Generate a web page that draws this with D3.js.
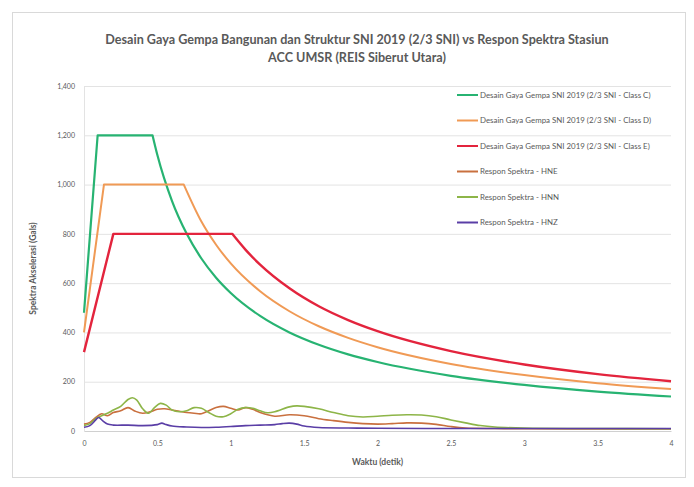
<!DOCTYPE html>
<html>
<head>
<meta charset="utf-8">
<script src="https://cdn.jsdelivr.net/npm/d3@7"></script>
<style>
  html, body { margin: 0; padding: 0; background: #ffffff; }
  svg { display: block; }
  text { font-family: Lato, "Open Sans", sans-serif; fill: #595959; }
</style>
</head>
<body>
<svg id="chart" width="694" height="487"></svg>
<script>
// Design spectra (SNI 2019, 2/3 SNI) per site class: period T (s) and Sa (gals)
// points 0..2 are the linear rise and the plateau, the rest is the descending branch
const classC_T = [0, 0.093, 0.467, 0.5, 0.6, 0.7, 0.8, 0.9, 1.0, 1.2, 1.4, 1.6, 1.8, 2.0, 2.5, 3.0, 3.5, 4.0];
const classC_Sa = [480, 1200, 1200, 1120, 933, 800, 700, 622, 560, 467, 400, 350, 311, 280, 224, 187, 160, 140];

const classD_T = [0, 0.136, 0.68, 0.8, 0.9, 1.0, 1.2, 1.4, 1.6, 1.8, 2.0, 2.5, 3.0, 3.5, 4.0];
const classD_Sa = [400, 1000, 1000, 850, 756, 680, 567, 486, 425, 378, 340, 272, 227, 194, 170];

const classE_T = [0, 0.2, 1.01, 1.1, 1.2, 1.4, 1.6, 1.8, 2.0, 2.5, 3.0, 3.5, 4.0];
const classE_Sa = [320, 800, 800, 736, 675, 579, 506, 450, 405, 324, 270, 231, 202];

// Recorded response spectra, station ACC UMSR
const hne_T = [0, 0.04, 0.08, 0.12, 0.16, 0.2, 0.25, 0.3, 0.35, 0.4, 0.45, 0.5, 0.55, 0.6, 0.65, 0.7, 0.75, 0.8, 0.85, 0.9, 0.95, 1.0, 1.05, 1.1, 1.15, 1.2, 1.3, 1.4, 1.5, 1.6, 1.7, 1.8, 1.9, 2.0, 2.1, 2.2, 2.3, 2.4, 2.5, 2.6, 2.8, 3.0, 3.5, 4.0];
const hne_Sa = [28, 35, 55, 70, 62, 75, 82, 95, 80, 72, 78, 88, 90, 85, 80, 75, 72, 70, 82, 95, 100, 92, 85, 95, 88, 75, 60, 66, 62, 50, 42, 35, 30, 28, 30, 33, 32, 27, 18, 12, 10, 9, 8, 8];

const hnn_T = [0, 0.04, 0.08, 0.12, 0.16, 0.2, 0.25, 0.3, 0.33, 0.36, 0.4, 0.44, 0.48, 0.52, 0.56, 0.6, 0.65, 0.7, 0.75, 0.8, 0.85, 0.9, 0.95, 1.0, 1.05, 1.1, 1.15, 1.2, 1.25, 1.3, 1.4, 1.45, 1.5, 1.6, 1.7, 1.8, 1.9, 2.0, 2.1, 2.2, 2.3, 2.4, 2.5, 2.6, 2.7, 2.8, 3.0, 3.5, 4.0];
const hnn_Sa = [22, 30, 50, 62, 72, 85, 100, 128, 135, 125, 90, 72, 95, 112, 105, 85, 78, 82, 95, 92, 75, 60, 58, 70, 88, 95, 92, 82, 74, 78, 98, 102, 100, 90, 75, 62, 57, 60, 64, 66, 65, 58, 45, 33, 22, 16, 12, 10, 9];

const hnz_T = [0, 0.04, 0.08, 0.1, 0.13, 0.16, 0.2, 0.3, 0.4, 0.5, 0.53, 0.56, 0.6, 0.7, 0.8, 0.9, 1.0, 1.1, 1.2, 1.3, 1.35, 1.4, 1.45, 1.5, 1.6, 1.8, 2.0, 2.5, 3.0, 3.5, 4.0];
const hnz_Sa = [15, 22, 45, 55, 40, 28, 24, 24, 22, 26, 32, 26, 20, 16, 14, 15, 18, 22, 24, 26, 30, 32, 28, 20, 14, 12, 11, 10, 10, 10, 10];

const seriesNames = [
  "Desain Gaya Gempa SNI 2019 (2/3 SNI - Class C)",
  "Desain Gaya Gempa SNI 2019 (2/3 SNI - Class D)",
  "Desain Gaya Gempa SNI 2019 (2/3 SNI - Class E)",
  "Respon Spektra - HNE",
  "Respon Spektra - HNN",
  "Respon Spektra - HNZ"
];
const xTicks = [0, 0.5, 1, 1.5, 2, 2.5, 3, 3.5, 4];
const yTicks = [0, 200, 400, 600, 800, 1000, 1200, 1400];

const titleLines = [
  "Desain Gaya Gempa Bangunan dan Struktur SNI 2019 (2/3 SNI) vs Respon Spektra Stasiun",
  "ACC UMSR (REIS Siberut Utara)"
];

const series = [
  { name: seriesNames[0], T: classC_T, Sa: classC_Sa, color: "#27b372", width: 2.2, design: true },
  { name: seriesNames[1], T: classD_T, Sa: classD_Sa, color: "#f09a55", width: 2.0, design: true },
  { name: seriesNames[2], T: classE_T, Sa: classE_Sa, color: "#e3243d", width: 2.4, design: true },
  { name: seriesNames[3], T: hne_T, Sa: hne_Sa, color: "#c9703f", width: 1.6, design: false },
  { name: seriesNames[4], T: hnn_T, Sa: hnn_Sa, color: "#8db548", width: 1.6, design: false },
  { name: seriesNames[5], T: hnz_T, Sa: hnz_Sa, color: "#5a3ea6", width: 1.6, design: false }
];

const svg = d3.select("#chart");

// chart frame
svg.append("rect")
  .attr("x", 12.5).attr("y", 12.5).attr("width", 673).attr("height", 465)
  .attr("fill", "#ffffff").attr("stroke", "#d9d9d9").attr("stroke-width", 1);

const plot = { left: 84, right: 671, top: 86, bottom: 431 };

const x = d3.scaleLinear().domain([0, 4]).range([plot.left, plot.right]);
const y = d3.scaleLinear().domain([0, 1400]).range([plot.bottom, plot.top]);

// horizontal gridlines
svg.append("g")
  .selectAll("line")
  .data(yTicks.filter(d => d > 0))
  .join("line")
  .attr("x1", plot.left).attr("x2", plot.right)
  .attr("y1", d => y(d) + 0.5).attr("y2", d => y(d) + 0.5)
  .attr("stroke", "#e3e3e3").attr("stroke-width", 1);

// y axis
const yAxis = svg.append("g")
  .attr("transform", `translate(${plot.left},0)`)
  .call(d3.axisLeft(y).tickValues(yTicks).tickSize(0).tickPadding(9)
    .tickFormat(d3.format(",")));
yAxis.select(".domain").attr("stroke", "#e3e3e3");
yAxis.selectAll("text").style("font-size", "7px").attr("fill", "#595959");

// x axis
const xAxis = svg.append("g")
  .attr("transform", `translate(0,${plot.bottom})`)
  .call(d3.axisBottom(x).tickValues(xTicks).tickSize(0).tickPadding(10)
    .tickFormat(d => String(d)));
xAxis.select(".domain").attr("stroke", "#d0d0d0");
xAxis.selectAll("text").style("font-size", "7px").attr("fill", "#595959");

const lineLinear = d3.line().x(d => x(d[0])).y(d => y(d[1])).curve(d3.curveLinear);
const lineSmooth = d3.line().x(d => x(d[0])).y(d => y(d[1])).curve(d3.curveMonotoneX);
const lineWiggle = d3.line().x(d => x(d[0])).y(d => y(d[1])).curve(d3.curveCatmullRom);

// series lines
series.forEach(s => {
  const pts = s.T.map((t, k) => [t, s.Sa[k]]);
  // design spectra: straight rise + plateau, then smooth descending branch
  const d = s.design
    ? lineLinear(pts.slice(0, 3)) + lineSmooth(pts.slice(2)).replace(/^M/, "L")
    : lineWiggle(pts);
  svg.append("path")
    .attr("fill", "none")
    .attr("stroke", s.color)
    .attr("stroke-width", s.width)
    .attr("stroke-linejoin", "round")
    .attr("d", d);
});

// title
svg.append("g").selectAll("text")
  .data(titleLines)
  .join("text")
  .attr("x", 357).attr("y", (d, i) => 44 + i * 18)
  .attr("text-anchor", "middle")
  .style("font-size", "12.6px").style("font-weight", "bold")
  .text(d => d);

// axis titles
svg.append("text")
  .attr("transform", `translate(36,${(plot.top + plot.bottom) / 2 + 10}) rotate(-90)`)
  .attr("text-anchor", "middle")
  .style("font-size", "8.5px").style("font-weight", "bold")
  .text("Spektra Akselerasi (Gals)");

svg.append("text")
  .attr("x", (plot.left + plot.right) / 2).attr("y", 465)
  .attr("text-anchor", "middle")
  .style("font-size", "8.5px").style("font-weight", "bold")
  .text("Waktu (detik)");

// legend
const legend = svg.append("g").attr("transform", "translate(457,95)");
const items = legend.selectAll("g").data(series).join("g")
  .attr("transform", (d, i) => `translate(0,${i * 25.5})`);
items.append("line")
  .attr("x1", 0).attr("x2", 21).attr("y1", 0).attr("y2", 0)
  .attr("stroke", d => d.color).attr("stroke-width", 2);
items.append("text")
  .attr("x", 23).attr("y", 2.7)
  .style("font-size", "7.9px")
  .text(d => d.name);
</script>
</body>
</html>
